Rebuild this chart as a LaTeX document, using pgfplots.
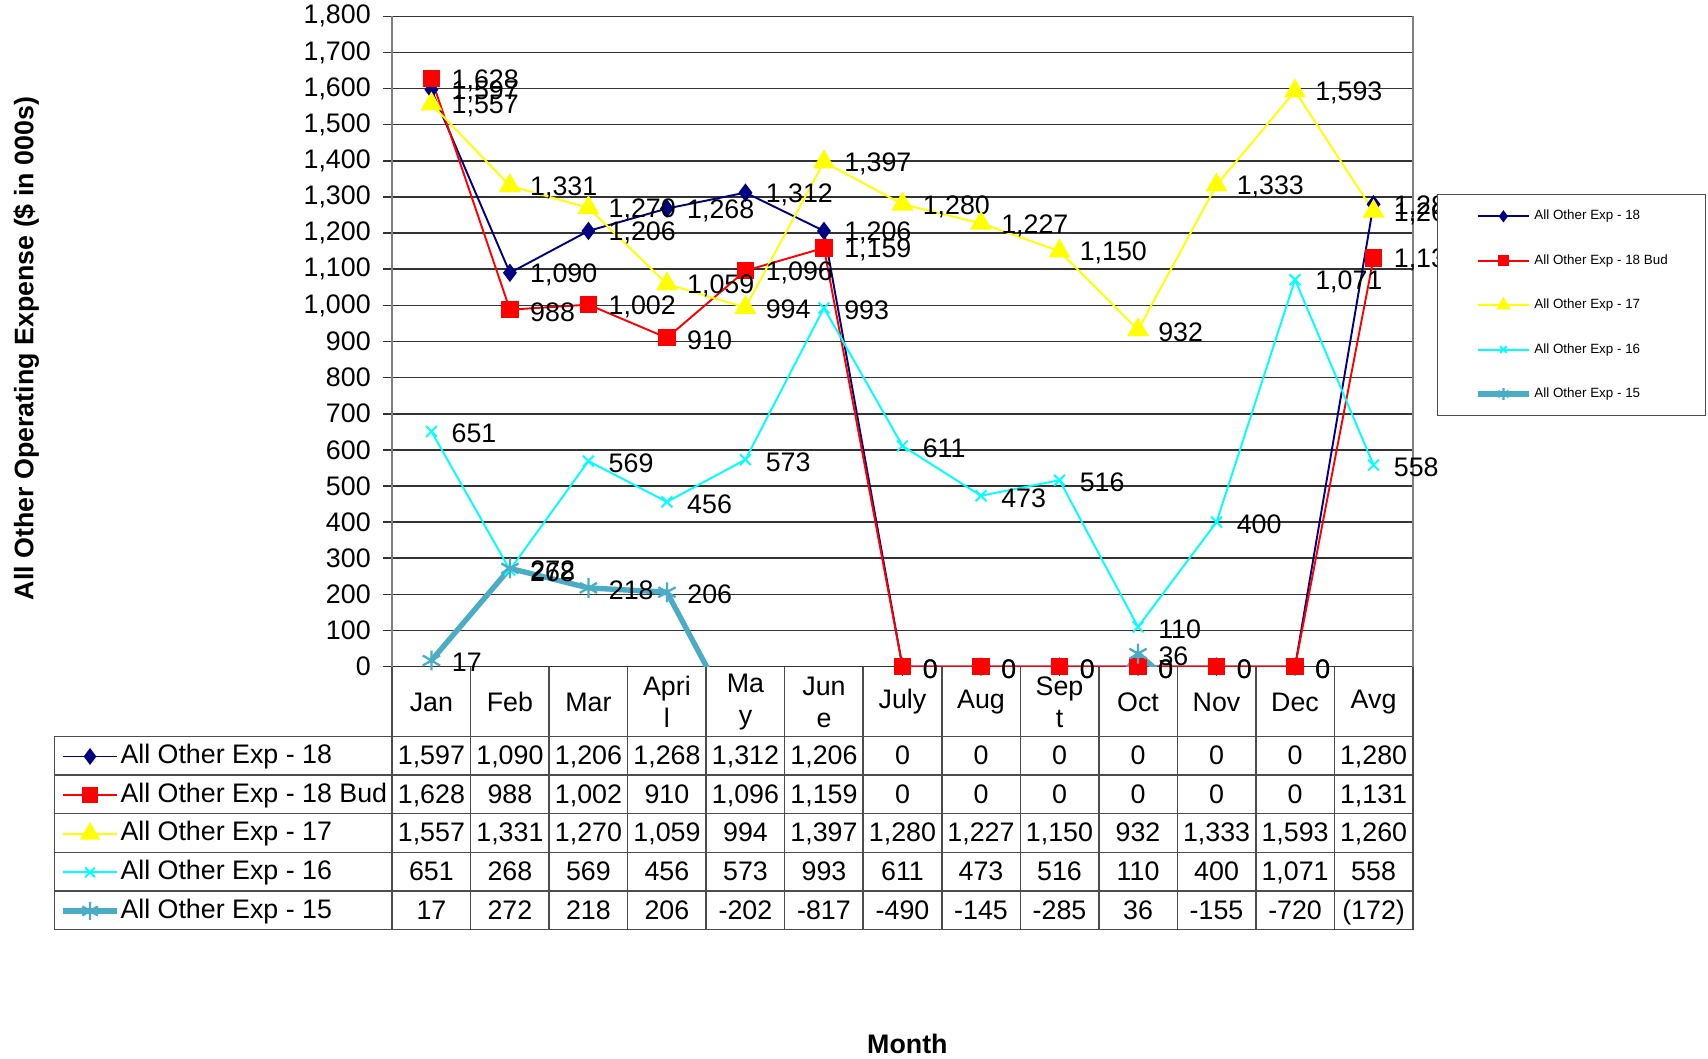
\documentclass[border=0pt]{standalone}
\usepackage{fontspec}
\setmainfont{Liberation Sans}
\usepackage{pgfplots}
\pgfplotsset{compat=1.18}
\definecolor{s18}{RGB}{0,0,128}
\definecolor{s18b}{RGB}{255,0,0}
\definecolor{s17}{RGB}{255,255,0}
\definecolor{s16}{RGB}{0,255,255}
\definecolor{s15}{RGB}{75,172,198}
\newcommand\sz{\fontsize{7}{7.7}\selectfont}
\newcommand\lsz{\fontsize{3.5}{4}\selectfont}
\pgfplotsset{/pgf/number format/.cd, 1000 sep={,}, assume math mode=true}
\begin{document}
\begin{tikzpicture}
\begin{axis}[
  at={(36mm,36mm)}, anchor=south west,
  scale only axis, width=93.7mm, height=59.7mm,
  xmin=-0.5, xmax=12.5, ymin=0, ymax=1800,
  xtick={0,...,12},
  xticklabels={Jan,Feb,Mar,{Apri\\[0.6pt]l},{Ma\\[0.6pt]y},{Jun\\[0.6pt]e},July,Aug,{Sep\\[0.6pt]t},Oct,Nov,Dec,Avg},
  xtick style={draw=none},
  xticklabel style={anchor=center, align=center, yshift=-2.45mm, font=\sz, inner sep=0pt},
  ytick={0,100,...,1800}, ytick pos=left,
  ytick style={draw=black!80, line width=0.4pt},
  tick align=outside, major tick length=0.8mm,
  yticklabel style={font=\sz, anchor=east, inner sep=0pt, xshift=-1.1mm},
  ymajorgrids, grid style={draw=black!80, line width=0.4pt},
  separate axis lines,
  x axis line style={draw=black!80, line width=0.4pt},
  y axis line style={draw=gray, line width=0.5pt},
  every axis y label/.style={at={(axis description cs:-0.3585,0.4891)}, rotate=90, anchor=center, font=\bfseries\sz},
  every axis x label/.style={at={(axis description cs:0.5048,-0.5796)}, anchor=center, font=\bfseries\sz},
  ylabel={All Other Operating Expense (\$ in 000s)},
  xlabel={Month},
  every node near coord/.append style={text=black, font=\sz, anchor=west, xshift=1.6mm, yshift=-0.2mm, inner sep=0.5pt},
  legend style={at={(1.0235,0.727)}, anchor=north west, draw=black!70, fill=white, line width=0.4pt,
     font=\lsz, inner xsep=3.45mm, inner ysep=1.4mm, row sep=2.9mm,
     nodes={inner sep=0pt, text height=2.6pt, text depth=0.75pt}},
  legend cell align=left,
  legend image code/.code={
     \draw[mark repeat=2,mark phase=2,#1, every mark/.append style={scale=0.6}] plot coordinates {(0mm,0mm)(2.35mm,0mm)(4.7mm,0mm)};
     \path (4.95mm,0mm);},
]
\addplot[s18, line width=0.5pt, mark=diamond*, mark size=2pt, nodes near coords] coordinates {
 (0,1597)(1,1090)(2,1206)(3,1268)(4,1312)(5,1206)(6,0)(7,0)(8,0)(9,0)(10,0)(11,0)(12,1280)};
\addlegendentry{All Other Exp - 18}
\addplot[s18b, line width=0.5pt, mark=square*, mark size=2pt, nodes near coords] coordinates {
 (0,1628)(1,988)(2,1002)(3,910)(4,1096)(5,1159)(6,0)(7,0)(8,0)(9,0)(10,0)(11,0)(12,1131)};
\addlegendentry{All Other Exp - 18 Bud}
\addplot[s17, line width=0.5pt, mark=triangle*, mark size=2.8pt, nodes near coords] coordinates {
 (0,1557)(1,1331)(2,1270)(3,1059)(4,994)(5,1397)(6,1280)(7,1227)(8,1150)(9,932)(10,1333)(11,1593)(12,1260)};
\addlegendentry{All Other Exp - 17}
\addplot[s16, line width=0.5pt, mark=x, mark size=2pt, nodes near coords] coordinates {
 (0,651)(1,268)(2,569)(3,456)(4,573)(5,993)(6,611)(7,473)(8,516)(9,110)(10,400)(11,1071)(12,558)};
\addlegendentry{All Other Exp - 16}
\addplot[s15, line width=1.4pt, no markers, forget plot] coordinates {
 (0,17)(1,272)(2,218)(3,206)(4,-202)(5,-817)(6,-490)(7,-145)(8,-285)(9,36)(10,-155)(11,-720)(12,-172)};
\addplot[s15, only marks, mark=asterisk, mark size=2.6pt, mark options={line width=0.6pt},
  restrict y to domain=0:1800, nodes near coords, forget plot] coordinates {
 (0,17)(1,272)(2,218)(3,206)(4,-202)(5,-817)(6,-490)(7,-145)(8,-285)(9,36)(10,-155)(11,-720)(12,-172)};
\addlegendimage{s15, line width=1.4pt, mark=asterisk, mark size=2.6pt, mark options={line width=0.6pt}}
\addlegendentry{All Other Exp - 15}
\end{axis}

\begin{axis}[
  at={(36mm,36mm)}, anchor=south west,
  scale only axis, width=93.7mm, height=59.7mm,
  hide axis, xmin=0, xmax=1, ymin=0, ymax=1,
  legend style={at={(-0.3255,-0.11725)}, anchor=north west, draw=none, fill=none,
     font=\sz, inner xsep=0pt, inner ysep=0pt, row sep=1.19mm,
     nodes={inner sep=0pt, text height=5.2pt, text depth=1.5pt}},
  legend cell align=left,
  legend image code/.code={
     \draw[mark repeat=2,mark phase=2,#1, every mark/.append style={scale=0.9}] plot coordinates {(0mm,0mm)(2.45mm,0mm)(4.9mm,0mm)};
     \path (5.0mm,0mm);},
]
\addlegendimage{s18, line width=0.5pt, mark=diamond*, mark size=2pt}
\addlegendimage{s18b, line width=0.5pt, mark=square*, mark size=2pt}
\addlegendimage{s17, line width=0.5pt, mark=triangle*, mark size=2.8pt}
\addlegendimage{s16, line width=0.5pt, mark=x, mark size=2pt}
\addlegendimage{s15, line width=1.4pt, mark=asterisk, mark size=2.6pt, mark options={line width=0.6pt}}
\legend{All Other Exp - 18, All Other Exp - 18 Bud, All Other Exp - 17, All Other Exp - 16, All Other Exp - 15}
\end{axis}

\begin{scope}[x=0.1mm, y=-0.1mm, yshift=97.2mm]
  \foreach \yy in {676,711.5,747,782.5,818,853.5}
    \draw[black!70, line width=0.4pt] (50,\yy) -- (1297,\yy);
  \draw[black!70, line width=0.4pt] (50,676) -- (50,853.5);
  \foreach \i in {0,...,13}
    \draw[black!70, line width=0.4pt] ({360+72.077*\i},612) -- ({360+72.077*\i},853.5);
  \tikzset{cell/.style={font=\sz, inner sep=0pt, text height=5pt, text depth=0pt, anchor=center}}
  \foreach \v [count=\i from 0] in {{1,597},{1,090},{1,206},{1,268},{1,312},{1,206},0,0,0,0,0,0,{1,280}}
    \node[cell] at ({396.04+72.077*\i},693) {\v};
  \foreach \v [count=\i from 0] in {{1,628},988,{1,002},910,{1,096},{1,159},0,0,0,0,0,0,{1,131}}
    \node[cell] at ({396.04+72.077*\i},728.5) {\v};
  \foreach \v [count=\i from 0] in {{1,557},{1,331},{1,270},{1,059},994,{1,397},{1,280},{1,227},{1,150},932,{1,333},{1,593},{1,260}}
    \node[cell] at ({396.04+72.077*\i},764) {\v};
  \foreach \v [count=\i from 0] in {651,268,569,456,573,993,611,473,516,110,400,{1,071},558}
    \node[cell] at ({396.04+72.077*\i},799.5) {\v};
  \foreach \v [count=\i from 0] in {17,272,218,206,-202,-817,-490,-145,-285,36,-155,-720,(172)}
    \node[cell] at ({396.04+72.077*\i},835) {\v};
\end{scope}
\pgfresetboundingbox
\path (0,0) rectangle (156.8mm,97.2mm);
\end{tikzpicture}
\end{document}
